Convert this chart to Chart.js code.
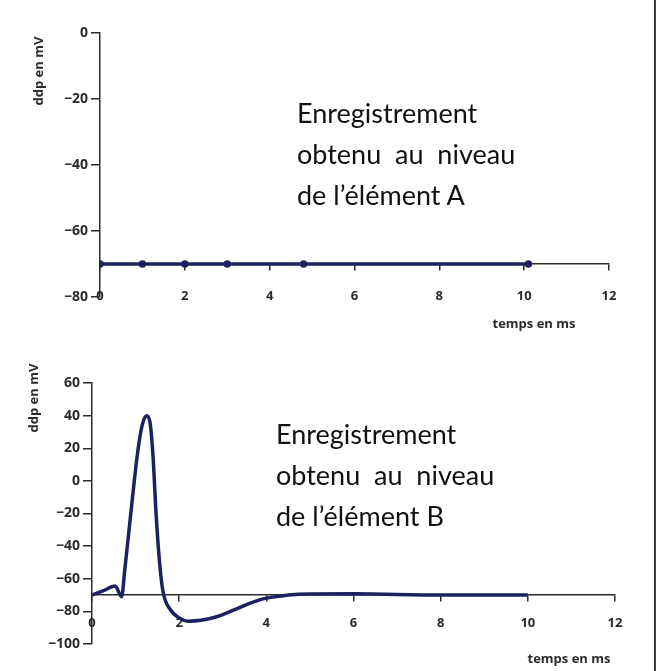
<!DOCTYPE html>
<html>
<head>
<meta charset="utf-8">
<script src="https://cdn.jsdelivr.net/npm/chart.js@4.4.1/dist/chart.umd.min.js"></script>
<style>
  body { margin: 0; background: #fff; }
  #page { position: relative; width: 657px; height: 671px; overflow: hidden; }
  canvas { position: absolute; left: 0; }
  #chartA { top: 0; }
  #chartB { top: 340px; }
  .axis-title { position: absolute; font-family: 'Open Sans'; font-weight: bold; font-size: 13px; color: #2b2b2b; white-space: nowrap; transform: translate(-50%, -50%); }
  .ylab { transform: translate(-50%, -50%) rotate(-90deg); }
  .note { position: absolute; font-family: Lato; font-size: 27px; line-height: 41px; color: #111; white-space: pre; }
  #frame { position: absolute; left: 654px; top: 0; width: 2px; height: 671px; background: #3a3a3a; }
</style>
</head>
<body>
<div id="page">
  <canvas id="chartA" width="657" height="340" style="width:657px;height:340px"></canvas>
  <canvas id="chartB" width="657" height="331" style="width:657px;height:331px"></canvas>

  <div class="axis-title ylab" style="left:38px;top:71px">ddp en mV</div>
  <div class="axis-title" style="left:534px;top:323px">temps en ms</div>
  <div class="axis-title ylab" style="left:33px;top:398px">ddp en mV</div>
  <div class="axis-title" style="left:569px;top:658px">temps en ms</div>

  <div class="note" style="left:297px;top:92px">Enregistrement
obtenu  au  niveau
de l’élément A</div>
  <div class="note" style="left:276px;top:413px">Enregistrement
obtenu  au  niveau
de l’élément B</div>

  <div id="frame"></div>
</div>

<script>
// element A : flat resting potential
var timesA = [0, 1, 2, 3, 4.8, 10.1];
var voltsA = [-70, -70, -70, -70, -70, -70];

// element B : action potential
var timesB = [0, 0.25, 0.53, 0.68, 0.75, 0.85, 0.95, 1.05, 1.15, 1.25, 1.33, 1.4, 1.47, 1.55, 1.63, 1.8, 2.0, 2.2, 2.5, 2.9, 3.4, 3.9, 4.5, 5, 6, 8, 10];
var voltsB = [-70, -67.5, -64.5, -71, -55, -30, -5, 18, 34, 40, 36, 15, -20, -50, -68, -79, -84, -86, -85.5, -83, -77.5, -72.5, -70, -69.3, -69.2, -70, -70];

var xTicks = [0, 2, 4, 6, 8, 10, 12];
var yTicksA = [0, -20, -40, -60, -80];
var yTicksB = [60, 40, 20, 0, -20, -40, -60, -80, -100];

var lineColor = '#1c2260';
var axisColor = '#2b2b2b';
var xFont = { family: 'Open Sans', weight: 'bold', size: 13 };
var yFont = { family: 'Open Sans', weight: 'bold', size: 14 };

function minus(v) {
  return String(v).replace('-', '\u2212');
}

function makeChart(id, times, volts, yTicks, opts) {
  var ctx = document.getElementById(id).getContext('2d');
  return new Chart(ctx, {
    type: 'line',
    data: {
      datasets: [{
        data: times.map(function (t, i) { return { x: t, y: volts[i] }; }),
        borderColor: lineColor,
        backgroundColor: lineColor,
        borderWidth: 3.5,
        pointRadius: opts.pointRadius,
        pointHoverRadius: 0,
        cubicInterpolationMode: 'monotone',
        fill: false
      }]
    },
    options: {
      responsive: false,
      animation: false,
      layout: { padding: opts.padding },
      plugins: { legend: { display: false }, tooltip: { enabled: false } },
      scales: {
        x: {
          type: 'linear',
          min: xTicks[0],
          max: xTicks[xTicks.length - 1],
          position: { y: -70 },
          afterFit: function (s) { s.height = 0; },
          afterBuildTicks: function (s) { s.ticks = xTicks.map(function (v) { return { value: v }; }); },
          grid: { drawOnChartArea: false, tickLength: 6, color: axisColor, lineWidth: 1.5 },
          border: { color: axisColor, width: 1.5 },
          ticks: { padding: opts.xPad, color: axisColor, font: xFont }
        },
        y: {
          type: 'linear',
          min: yTicks[yTicks.length - 1],
          max: yTicks[0],
          afterFit: function (s) { s.width = opts.yWidth; },
          afterBuildTicks: function (s) { s.ticks = yTicks.map(function (v) { return { value: v }; }); },
          grid: { drawOnChartArea: false, tickLength: 9, color: axisColor, lineWidth: 1.5 },
          border: { color: axisColor, width: 1.5 },
          ticks: { padding: 3, color: axisColor, font: yFont, callback: minus }
        }
      }
    }
  });
}

makeChart('chartA', timesA, voltsA, yTicksA, {
  padding: { top: 33, right: 48, bottom: 43, left: 0 },
  yWidth: 100,
  xPad: 18,
  pointRadius: 2
});

makeChart('chartB', timesB, voltsB, yTicksB, {
  padding: { top: 43, right: 42, bottom: 27, left: 0 },
  yWidth: 92,
  xPad: 14,
  pointRadius: 0
});
</script>
</body>
</html>
